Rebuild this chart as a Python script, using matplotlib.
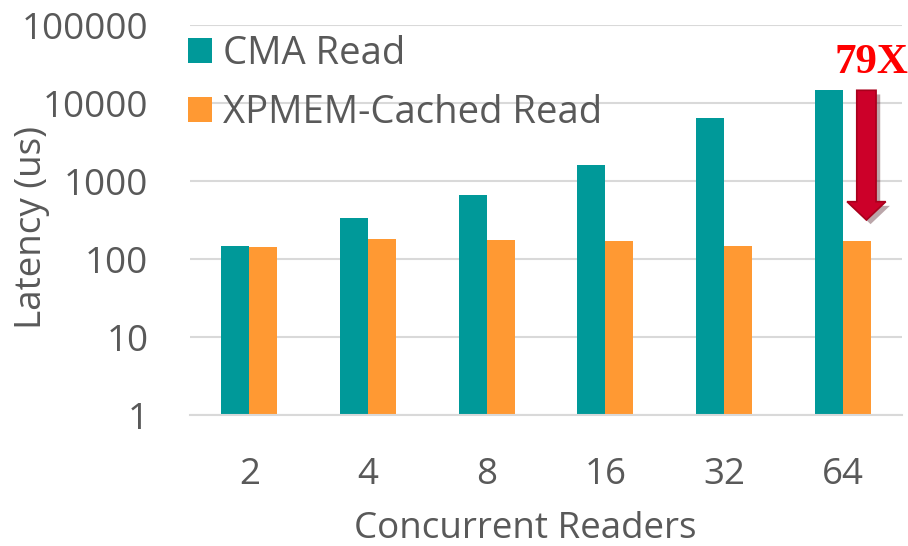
import matplotlib
matplotlib.use('Agg')
import matplotlib.pyplot as plt
import matplotlib.ticker as ticker
import matplotlib.patheffects as pe
from matplotlib.patches import FancyArrow
import numpy as np

# Data
readers = ['2', '4', '8', '16', '32', '64']
cma_read = [148, 340, 668, 1592, 6427, 14890]
xpmem_cached_read = [143, 183, 177, 171, 148, 172]
y_ticks = [1, 10, 100, 1000, 10000, 100000]
speedup_label = '79X'

# Style
TEAL = '#009999'
ORANGE = '#FF9933'
TEXT_GRAY = '#595959'
GRID_GRAY = '#D9D9D9'
BAR_WIDTH = 0.236
FONT = ['Open Sans', 'DejaVu Sans']

plt.rcParams['font.family'] = FONT


def main():
    fig = plt.figure(figsize=(9.08, 5.46), dpi=100)
    ax = fig.add_axes([0.2093, 0.2399, 0.7841, 0.7143])

    x = np.arange(len(readers))
    ax.bar(x - BAR_WIDTH / 2, cma_read, BAR_WIDTH, color=TEAL,
           label='CMA Read', zorder=3)
    ax.bar(x + BAR_WIDTH / 2, xpmem_cached_read, BAR_WIDTH, color=ORANGE,
           label='XPMEM-Cached Read', zorder=3)

    configure_axes(ax, x)
    add_legend(ax)
    add_speedup_arrow(ax)

    fig.savefig('out.png', dpi=100)


def configure_axes(ax, x):
    ax.set_yscale('log')
    ax.set_ylim(1, 100000)
    ax.set_xlim(-0.5, len(readers) - 0.5)
    ax.yaxis.set_major_locator(ticker.FixedLocator(y_ticks))
    ax.yaxis.set_minor_locator(ticker.NullLocator())
    ax.yaxis.set_major_formatter(ticker.FuncFormatter(lambda v, p: f'{int(v)}'))
    ax.set_xticks(x)
    ax.set_xticklabels(readers)

    ax.tick_params(axis='both', length=0, labelsize=26.5, colors=TEXT_GRAY)
    ax.tick_params(axis='y', pad=30)
    ax.tick_params(axis='x', pad=30)

    ax.yaxis.grid(True, color=GRID_GRAY, linewidth=1.5, zorder=0)
    ax.set_axisbelow(True)
    for side in ['top', 'right', 'left']:
        ax.spines[side].set_visible(False)
    ax.spines['bottom'].set_color(GRID_GRAY)
    ax.spines['bottom'].set_linewidth(1.5)
    ax.spines['bottom'].set_zorder(4)

    ax.set_ylabel('Latency (us)', fontsize=26.5, color=TEXT_GRAY)
    ax.yaxis.set_label_coords(-0.197, 0.48)
    ax.set_xlabel('Concurrent Readers', fontsize=26.5, color=TEXT_GRAY)
    ax.xaxis.set_label_coords(0.471, -0.245)


def add_legend(ax):
    leg = ax.legend(loc='upper left', bbox_to_anchor=(-0.003, 0.975),
                    frameon=False, fontsize=27.5, handlelength=0.62,
                    handleheight=0.62, handletextpad=0.3, labelspacing=0.56,
                    borderpad=0, borderaxespad=0)
    for text in leg.get_texts():
        text.set_color(TEXT_GRAY)


def add_speedup_arrow(ax):
    shadow = [pe.SimplePatchShadow(offset=(3, -3), alpha=0.35), pe.Normal()]
    arrow = FancyArrow(0.950, 0.8326, 0, -0.3326, width=0.0271,
                       head_width=0.0543, head_length=0.047,
                       length_includes_head=True, transform=ax.transAxes,
                       facecolor='#CC0029', edgecolor='#A8001C', linewidth=1.2,
                       zorder=5, clip_on=False)
    arrow.set_path_effects(shadow)
    ax.add_patch(arrow)
    ax.text(0.9575, 0.9026, speedup_label, transform=ax.transAxes,
            ha='center', va='center', fontsize=31, fontweight='bold',
            family=['Liberation Serif', 'DejaVu Serif'], color='#FF0000',
            clip_on=False, zorder=6)


if __name__ == '__main__':
    main()
